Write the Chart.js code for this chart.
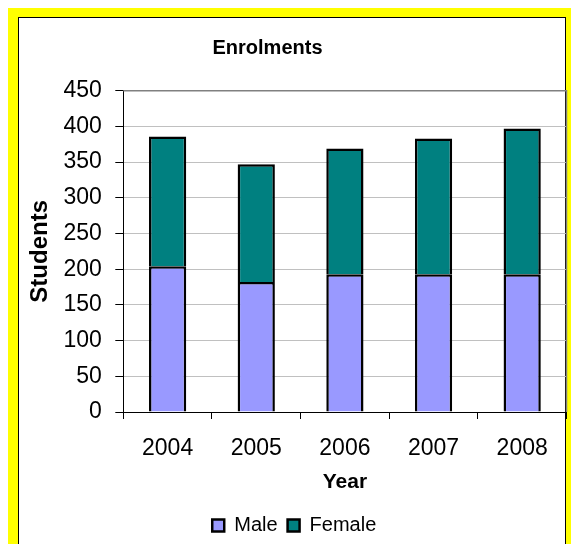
<!DOCTYPE html>
<html>
<head>
<meta charset="utf-8">
<script src="https://cdn.jsdelivr.net/npm/chart.js@4/dist/chart.umd.min.js"></script>
<style>
  html, body { margin: 0; padding: 0; background: #ffffff; }
  body { width: 571px; height: 544px; overflow: hidden; position: relative; }
  #yellow { position: absolute; left: 8px; top: 8px; width: 563px; height: 560px; background: #ffff00; }
  #white { position: absolute; left: 18px; top: 17px; width: 548px; height: 600px; box-sizing: border-box; border: 1px solid #000; background: #ffffff; }
  #c { position: absolute; left: 0; top: 0; }
</style>
</head>
<body>
<div id="yellow"></div>
<div id="white"></div>
<canvas id="c" width="571" height="544"></canvas>
<script>
const categories = ['2004', '2005', '2006', '2007', '2008'];
const maleValues = [204, 182, 193, 193, 193];
const femaleValues = [182, 165, 176, 190, 204];
const yTickMin = 0;
const yTickMax = 450;
const yTickStep = 50;

const FONT = "'Liberation Sans', Arial, sans-serif";

const framePlugin = {
  id: 'framePlugin',
  afterLayout(chart) {
    const t = chart.titleBlock;
    if (t) { t.left = 267.5 - 300; t.right = 267.5 + 300; }
    const lg = chart.legend;
    if (lg) { lg.left += 11; lg.right += 11; lg.top += 1.5; lg.bottom += 1.5; }
  },
  beforeDatasetsDraw(chart) {
    const {ctx, chartArea: a} = chart;
    ctx.save();
    ctx.strokeStyle = '#808080';
    ctx.lineWidth = 1.5;
    ctx.beginPath();
    ctx.moveTo(a.left, a.top);
    ctx.lineTo(a.right, a.top);
    ctx.lineTo(a.right, a.bottom);
    ctx.stroke();
    ctx.restore();
  }
};

new Chart(document.getElementById('c'), {
  type: 'bar',
  data: {
    labels: categories,
    datasets: [
      { label: 'Male', data: maleValues, backgroundColor: '#9999ff', borderColor: '#000000', borderWidth: 2.5, borderSkipped: 'start', inflateAmount: 0 },
      { label: 'Female', data: femaleValues, backgroundColor: '#008080', borderColor: '#000000', borderWidth: 2.5, borderSkipped: 'start', inflateAmount: 0 }
    ]
  },
  options: {
    responsive: false,
    animation: false,
    devicePixelRatio: 1,
    layout: { padding: { left: 0, right: 4.5, top: 0, bottom: 0 } },
    datasets: { bar: { categoryPercentage: 1, barPercentage: 0.42 } },
    plugins: {
      title: {
        display: true, text: 'Enrolments', color: '#000',
        font: { family: FONT, size: 20, weight: 'bold' },
        padding: { top: 36, bottom: 30.7 }
      },
      legend: {
        position: 'bottom',
        labels: { color: '#000', font: { family: FONT, size: 20 }, boxWidth: 12, boxHeight: 12, padding: 10 }
      },
      tooltip: { enabled: false }
    },
    scales: {
      x: {
        stacked: true,
        afterFit(scale) { scale.height = 92; },
        grid: { display: true, drawOnChartArea: false, drawTicks: true, tickLength: 7, color: '#000', tickColor: '#000', offset: true },
        border: { display: true, color: '#000', width: 1 },
        ticks: { color: '#000', font: { family: FONT, size: 23 }, padding: 15.5, maxRotation: 0 },
        title: { display: true, text: 'Year', color: '#000', font: { family: FONT, size: 21, weight: 'bold' }, padding: { top: 0, bottom: 9.4 } }
      },
      y: {
        stacked: true,
        min: yTickMin, max: yTickMax,
        afterFit(scale) { scale.width = 123.3; },
        grid: {
          drawTicks: true, tickLength: 8, tickColor: '#000',
          color: (c) => (c.tick && (c.tick.value === 0 || c.tick.value === yTickMax)) ? 'rgba(0,0,0,0)' : '#c0c0c0'
        },
        border: { display: true, color: '#000', width: 1 },
        ticks: { stepSize: yTickStep, color: '#000', font: { family: FONT, size: 23 }, padding: 13.5 },
        title: { display: true, text: 'Students', color: '#000', font: { family: FONT, size: 24, weight: 'bold' }, padding: { top: 25.5, bottom: 0 } }
      }
    }
  },
  plugins: [framePlugin]
});
</script>
</body>
</html>
